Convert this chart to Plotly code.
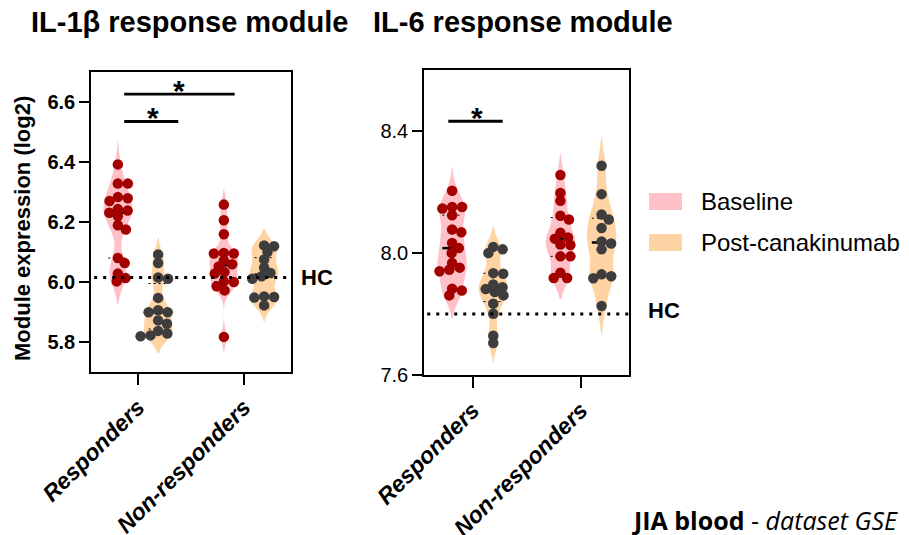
import numpy as np
import plotly.graph_objects as go

# ---------------- data ----------------
groups = ["Responders", "Non-responders"]
conditions = ["Baseline", "Post-canakinumab"]

il1b_resp_base = [6.392, 6.328, 6.328, 6.279, 6.283, 6.270, 6.231, 6.243, 6.219, 6.238,
                  6.189, 6.175, 6.080, 6.063, 6.028, 6.002, 6.013]
il1b_resp_post = [6.092, 6.063, 6.011, 6.015, 5.947, 5.899, 5.899, 5.906, 5.872, 5.861,
                  5.819, 5.837, 5.822, 5.828]
il1b_non_base = [6.258, 6.206, 6.159, 6.097, 6.095, 6.095, 6.072, 6.059, 6.052, 6.033,
                 6.028, 6.000, 6.002, 5.986, 5.972, 5.817]
il1b_non_post = [6.122, 6.119, 6.100, 6.075, 6.048, 6.030, 6.011, 6.019, 5.952, 5.948,
                 5.950, 5.922]

il6_resp_base = [8.204, 8.146, 8.151, 8.151, 8.124, 8.077, 8.068, 8.033, 8.016, 8.000,
                 7.967, 7.945, 7.940, 7.952, 7.883, 7.877, 7.861]
il6_resp_post = [8.020, 8.012, 8.000, 7.932, 7.934, 7.882, 7.888, 7.897, 7.872, 7.861,
                 7.834, 7.801, 7.729, 7.705]
il6_non_base = [8.256, 8.197, 8.171, 8.122, 8.110, 8.066, 8.047, 8.051, 8.026, 8.028,
                7.989, 7.989, 7.935, 7.918, 7.918]
il6_non_post = [8.286, 8.193, 8.126, 8.110, 8.082, 8.031, 8.038, 8.012, 7.930, 7.917,
                7.924, 7.826]

hc_il1b = 6.015
hc_il6 = 7.80

# KDE bandwidths per violin (estimated from the outline extent)
bw_il1b = [0.038, 0.028, 0.025, 0.027]
bw_il6 = [0.038, 0.033, 0.035, 0.046]

y_ticks_il1b = [5.8, 6.0, 6.2, 6.4, 6.6]
y_ticks_il6 = [7.6, 8.0, 8.4]

# ---------------- style ----------------
W, H = 909, 535
FILL = {"Baseline": "#FFC1C8", "Post-canakinumab": "#FFD4A4"}
DOT = {"Baseline": "#A30000", "Post-canakinumab": "#3D3D3D"}
OFF = 0.19
VW = 0.27
FONT = "Liberation Sans"


def px(x):
    return x / W


def py(y):
    return 1 - y / H


# panel geometry (pixels)
panels = [
    dict(xd=(91, 291), yd=(72, 372), xc=(138, 244), yr=(5.7, 6.7), xa="x", ya="y",
         data=[il1b_resp_base, il1b_resp_post, il1b_non_base, il1b_non_post],
         bw=bw_il1b, ticks=y_ticks_il1b, hc=hc_il1b, tickbold=True),
    dict(xd=(424, 629), yd=(70, 375), xc=(472.7, 581), yr=(7.6, 8.6), xa="x2", ya="y2",
         data=[il6_resp_base, il6_resp_post, il6_non_base, il6_non_post],
         bw=bw_il6, ticks=y_ticks_il6, hc=hc_il6, tickbold=False),
]


def beeswarm(vals, xpu, ypu, dx0=10.0, dy0=7.0):
    """Greedy swarm with elliptical collision (dx0 horizontal, dy0 vertical, px)."""
    vals = np.asarray(vals)
    order = np.argsort(-vals)
    placed = []
    offs = np.zeros(len(vals))

    def hits(c, y):
        return any(((c - xo) / dx0) ** 2 + ((y - yo) / dy0) ** 2 < 1 - 1e-9
                   for xo, yo in placed)

    for i in order:
        y = vals[i] * ypu
        cands = [0.0]
        for xo, yo in placed:
            dy = abs(y - yo)
            if dy < dy0:
                dx = dx0 * np.sqrt(1 - (dy / dy0) ** 2)
                cands += [xo + dx, xo - dx]
        cands.sort(key=lambda c: (abs(c), -c))
        chosen = cands[-1]
        for c in cands:
            if not hits(c, y):
                chosen = c
                break
        placed.append((chosen, y))
        offs[i] = chosen
    return offs / xpu


fig = go.Figure()
shapes = []
annotations = []

for p in panels:
    xpu = (p["xc"][1] - p["xc"][0])  # px per x unit
    xr = ((p["xd"][0] - p["xc"][0]) / xpu, (p["xd"][1] - p["xc"][0]) / xpu)
    ypu = (p["yd"][1] - p["yd"][0]) / (p["yr"][1] - p["yr"][0])
    p["xr"] = xr
    k = 0
    for gi, g in enumerate(groups):
        for ci, c in enumerate(conditions):
            vals = np.array(p["data"][k])
            pos = gi + (-OFF if ci == 0 else OFF)
            fig.add_trace(go.Violin(
                x=[pos] * len(vals), y=vals, xaxis=p["xa"], yaxis=p["ya"],
                width=VW, bandwidth=p["bw"][k], points=False,
                fillcolor=FILL[c], line=dict(width=0, color=FILL[c]), opacity=1,
                hoverinfo="skip", showlegend=False, box_visible=False,
                meanline_visible=False, spanmode="soft", scalemode="width"))
            q1, med, q3 = np.percentile(vals, [25, 50, 75])
            hw = 0.09
            fig.add_trace(go.Scatter(
                x=[pos - hw, pos + hw], y=[med, med], mode="lines",
                line=dict(color="black", width=2.5), xaxis=p["xa"], yaxis=p["ya"],
                showlegend=False, hoverinfo="skip"))
            for q in (q1, q3):
                fig.add_trace(go.Scatter(
                    x=[pos - hw, pos + hw], y=[q, q], mode="lines",
                    line=dict(color="black", width=1, dash="2px,3px"),
                    xaxis=p["xa"], yaxis=p["ya"], showlegend=False, hoverinfo="skip"))
            offs = beeswarm(vals, xpu, ypu)
            fig.add_trace(go.Scatter(
                x=pos + offs, y=vals, mode="markers",
                marker=dict(size=10.5, color=DOT[c], line=dict(width=0)),
                xaxis=p["xa"], yaxis=p["ya"], showlegend=False, hoverinfo="skip"))
            k += 1
    # HC dotted line
    shapes.append(dict(type="line", xref=p["xa"], yref=p["ya"], x0=xr[0] + 0.03, x1=xr[1],
                       y0=p["hc"], y1=p["hc"], line=dict(color="black", width=3, dash="3px,6px")))

# layout axes
axis_common = dict(showline=True, linecolor="black", linewidth=1.5, mirror=True,
                   showgrid=False, zeroline=False, ticks="outside", tickcolor="black",
                   tickwidth=1.5, automargin=False)
layout_axes = {}
for i, p in enumerate(panels):
    sfx = "" if i == 0 else "2"
    layout_axes["xaxis" + sfx] = dict(
        axis_common, domain=[px(p["xd"][0]), px(p["xd"][1])], range=list(p["xr"]),
        anchor="y" + sfx, tickvals=[0, 1],
        ticktext=["<b><i>%s</i></b>" % g for g in groups], tickangle=-45, ticklen=11,
        tickfont=dict(family=FONT, size=23, color="black"))
    layout_axes["yaxis" + sfx] = dict(
        axis_common, domain=[py(p["yd"][1]), py(p["yd"][0])], range=list(p["yr"]),
        anchor="x" + sfx, tickvals=p["ticks"], ticktext=["%.1f" % t for t in p["ticks"]],
        ticklen=10,
        tickfont=dict(family=FONT, size=20, color="black",
                      weight="bold" if p["tickbold"] else "normal"))

# significance bars
sig = [("x", "y", -0.13, 0.38, 6.535, 0.145, 6.549),
       ("x", "y", -0.13, 0.912, 6.626, 0.39, 6.639),
       ("x2", "y2", -0.225, 0.277, 8.432, 0.042, 8.444)]
for xa, ya, x0, x1, yb, xs, ys in sig:
    shapes.append(dict(type="line", xref=xa, yref=ya, x0=x0, x1=x1, y0=yb, y1=yb,
                       line=dict(color="black", width=2.8)))
    annotations.append(dict(xref=xa, yref=ya, x=xs, y=ys, text="<b>*</b>", showarrow=False,
                            font=dict(family=FONT, size=30, color="black"),
                            xanchor="center", yanchor="middle"))

# titles
annotations.append(dict(xref="paper", yref="paper", x=px(29), y=py(22),
                        text="<b>IL-1β response module</b>", showarrow=False,
                        xanchor="left", yanchor="middle",
                        font=dict(family=FONT, size=29, color="black")))
annotations.append(dict(xref="paper", yref="paper", x=px(371), y=py(22),
                        text="<b>IL-6 response module</b>", showarrow=False,
                        xanchor="left", yanchor="middle",
                        font=dict(family=FONT, size=29, color="black")))
# y axis title
annotations.append(dict(xref="paper", yref="paper", x=px(22), y=py(229),
                        text="<b>Module expression (log2)</b>", showarrow=False,
                        textangle=-90, xanchor="center", yanchor="middle",
                        font=dict(family=FONT, size=22, color="black")))
# HC labels
annotations.append(dict(xref="paper", yref="paper", x=px(299), y=py(277),
                        text="<b>HC</b>", showarrow=False, xanchor="left", yanchor="middle",
                        font=dict(family=FONT, size=22, color="black")))
annotations.append(dict(xref="paper", yref="paper", x=px(646), y=py(310),
                        text="<b>HC</b>", showarrow=False, xanchor="left", yanchor="middle",
                        font=dict(family=FONT, size=22, color="black")))
# legend
for c, (y0, y1) in zip(conditions, [(193, 210), (234, 251)]):
    shapes.append(dict(type="rect", xref="paper", yref="paper", x0=px(649), x1=px(682),
                       y0=py(y1), y1=py(y0), fillcolor=FILL[c], line=dict(width=0)))
    annotations.append(dict(xref="paper", yref="paper", x=px(699), y=py((y0 + y1) / 2),
                            text=c, showarrow=False, xanchor="left", yanchor="middle",
                            font=dict(family=FONT, size=24, color="black")))
# footer
annotations.append(dict(xref="paper", yref="paper", x=px(630), y=py(520),
                        text="<b>JIA blood</b> - <i>dataset GSE</i>", showarrow=False,
                        xanchor="left", yanchor="middle",
                        font=dict(family="Open Sans", size=25, color="black")))

fig.update_layout(
    width=W, height=H, margin=dict(l=0, r=0, t=0, b=0, autoexpand=False),
    paper_bgcolor="white", plot_bgcolor="white", showlegend=False,
    violinmode="overlay", shapes=shapes, annotations=annotations, **layout_axes)

fig.write_html("out.html")
